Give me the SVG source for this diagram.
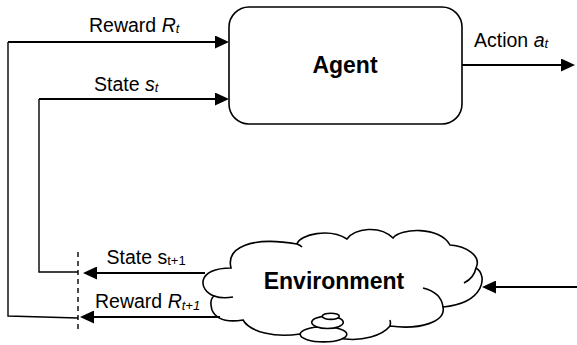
<svg xmlns="http://www.w3.org/2000/svg" width="577" height="345" viewBox="0 0 577 345">
<style>
.lbl{font-family:"Liberation Sans",Arial,sans-serif;font-size:19.5px;fill:#000}
.sub{font-size:13px}
.it{font-style:italic}
.big{font-family:"Liberation Sans",Arial,sans-serif;font-size:23px;font-weight:bold;fill:#000}
.thin{fill:none;stroke:#000;stroke-width:1.4}
.thick{fill:none;stroke:#000;stroke-width:2.2;marker-end:url(#ah)}
.shape{fill:#fff;stroke:#000;stroke-width:1.6}
.tail{fill:none;stroke:#000;stroke-width:1.6}
</style>
<defs>
<marker id="ah" markerUnits="userSpaceOnUse" markerWidth="14" markerHeight="13" refX="3" refY="6.5" orient="auto">
<path d="M0,0 L14,6.5 L0,13 Z" fill="#000"/>
</marker>
</defs>
<rect width="577" height="345" fill="#fff"/>

<g id="agent">
<rect class="shape" x="229" y="7" width="233" height="117" rx="20" ry="20"/>
<text class="big" x="345" y="73" text-anchor="middle">Agent</text>
</g>

<g id="environment">
<path class="shape" d="M214,296 C198,290 196,268 231,268 C226,248 250,236 297,244 C300,234 330,228 347,239 C355,228 380,225 393,238 C400,228 440,226 450,245 C466,246 482,256 476,268 C488,275 485,303 443,307 C446,322 420,330 390,326 C382,336 362,341 345,339 L300,334 C275,338 250,332 243,320 Q218,324 212,310 Q209,300 214,296 Z"/>
<path class="tail" d="M214,296 Q222,299 233,297"/>
<path class="tail" d="M297,244 Q300,245 302,247"/>
<path class="tail" d="M476,268 Q474,278 464,283"/>
<path class="tail" d="M423,288 C435,291 442,298 443,307"/>
<path class="tail" d="M390,320 Q391,323 390,326"/>
<ellipse class="shape" cx="323.5" cy="334.3" rx="23.3" ry="7.6"/>
<ellipse class="shape" cx="327.5" cy="322.3" rx="15.8" ry="6.2"/>
<ellipse class="shape" cx="330.8" cy="316.3" rx="8.5" ry="3.1"/>
<text class="big" x="334" y="289" text-anchor="middle">Environment</text>
</g>

<g id="connectors">
<polyline class="thin" points="78,318 8,316 8,42"/>
<line class="thick" x1="8" y1="42" x2="218" y2="42"/>
<polyline class="thin" points="78,272 39,272 39,99"/>
<line class="thick" x1="39" y1="99" x2="218" y2="99"/>
<line class="thick" x1="462" y1="65" x2="564" y2="65"/>
<line class="thick" x1="205" y1="273" x2="94" y2="273"/>
<line class="thick" x1="220" y1="317" x2="91" y2="317"/>
<line class="thick" x1="577" y1="287" x2="493" y2="287"/>
<line x1="78" y1="252" x2="78" y2="333" stroke="#000" stroke-width="1.4" stroke-dasharray="5,4"/>
</g>

<g id="labels">
<text class="lbl" x="89" y="31.5">Reward <tspan class="it">R</tspan><tspan class="it sub" dy="1.5">t</tspan></text>
<text class="lbl" x="94" y="90.5">State <tspan class="it">s</tspan><tspan class="it sub" dy="1.5">t</tspan></text>
<text class="lbl" x="474" y="46.5">Action <tspan class="it">a</tspan><tspan class="it sub" dy="1.5">t</tspan></text>
<text class="lbl" x="106.5" y="263.5">State s<tspan class="sub" dy="1.5">t+1</tspan></text>
<text class="lbl" x="95" y="308">Reward <tspan class="it">R</tspan><tspan class="it sub" dy="1.5">t+1</tspan></text>
</g>
</svg>
